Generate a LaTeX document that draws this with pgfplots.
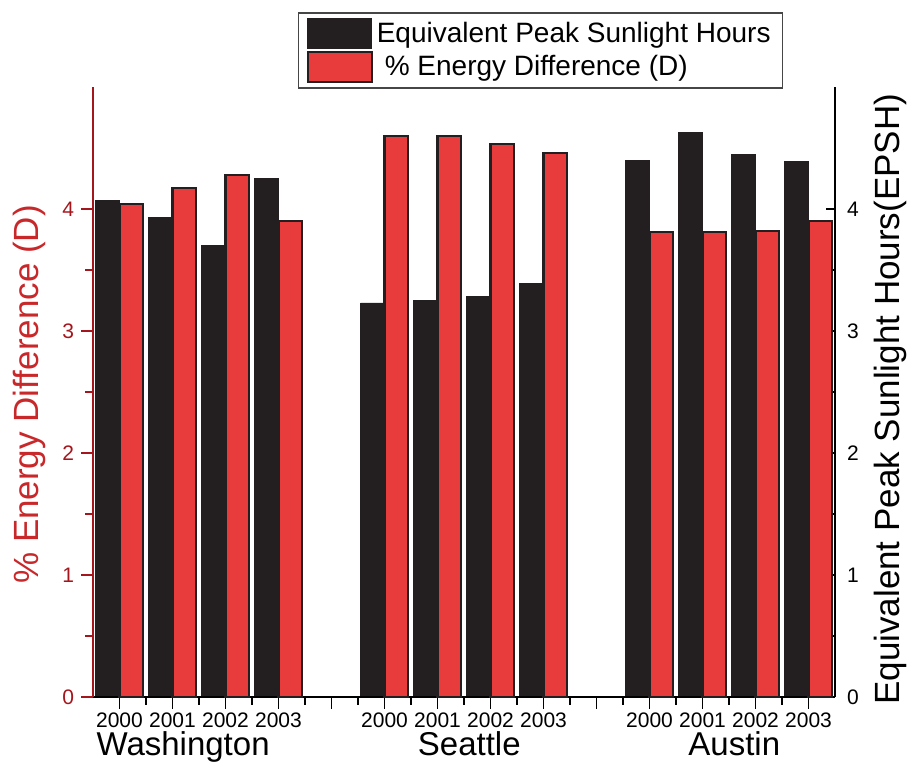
\documentclass[border=0pt]{standalone}
\usepackage{fontspec}
\setmainfont{Liberation Sans}
\usepackage{pgfplots}
\pgfplotsset{compat=1.18}
\definecolor{barblack}{RGB}{35,31,32}
\definecolor{barred}{RGB}{232,59,59}
\definecolor{axred}{RGB}{165,22,28}
\definecolor{labred}{RGB}{200,40,42}
\begin{document}
\begin{tikzpicture}
\useasboundingbox (0,0) rectangle (454pt,381.5pt);
\pgfplotsset{
  common/.style={at={(46.5pt,33pt)}, anchor=south west, scale only axis,
    width=371pt, height=305pt, xmin=-0.5, xmax=13.5, ymin=0, ymax=5, clip=false,
    /pgf/number format/assume math mode=true,
    tick label style={font=\fontsize{10.5}{12}\selectfont},
    ytick={0,1,2,3,4}, minor y tick num=1,
    axis line style={-, line width=1pt},
    every tick/.style={line width=0.8pt},
    legend image code/.code={\draw[##1] (0pt,-7.5pt) rectangle (32pt,7.5pt);},
  },
}
% right axis: black bars (EPSH)
\begin{axis}[common, axis x line=none, axis y line*=right, tick align=inside,
  major tick length=4.5pt, minor tick length=3.5pt,
  ytick style={draw=black}, yticklabel style={xshift=2.5pt, text=black},
  ylabel={Equivalent Peak Sunlight Hours(EPSH)},
  every axis y label/.style={at={(axis description cs:1.075,0.488)}, anchor=center, rotate=90, font=\fontsize{17.5}{20}\selectfont, text=black}]
\addplot[ybar, bar width=0.45, bar shift=-0.225, fill=barblack, draw=barblack]
  coordinates {(0,4.07) (1,3.93) (2,3.70) (3,4.25)
               (5,3.23) (6,3.25) (7,3.28) (8,3.39)
               (10,4.40) (11,4.63) (12,4.45) (13,4.39)};
\end{axis}
% left axis: red bars (% energy difference)
\begin{axis}[common, axis x line*=bottom, axis y line*=left, tick align=outside,
  major tick length=6pt, minor tick length=4pt,
  xtick={0,...,13},
  xticklabels={2000,2001,2002,2003,{},2000,2001,2002,2003,{},2000,2001,2002,2003},
  minor x tick num=1,
  xticklabel style={yshift=1.5pt},
  x axis line style={draw=black}, xtick style={draw=black},
  y axis line style={draw=axred}, ytick style={draw=axred}, yticklabel style={text=axred},
  ylabel={\% Energy Difference (D)},
  every axis y label/.style={at={(axis description cs:-0.085,0.496)}, anchor=center, rotate=90, font=\fontsize{17.5}{20}\selectfont, text=labred},
  legend style={at={(axis description cs:0.276,1.123)}, anchor=north west,
    draw={rgb,255:red,70;green,70;blue,70}, line width=0.8pt,
    font=\fontsize{14}{16}\selectfont, inner xsep=4pt, inner ysep=2.5pt, row sep=0.8pt},
  legend cell align=left]
\addlegendimage{fill=barblack, draw=barblack}
\addlegendentry{Equivalent Peak Sunlight Hours}
\addplot[ybar, bar width=0.45, bar shift=0.225, fill=barred, draw=barblack, line width=1.1pt]
  coordinates {(0,4.04) (1,4.17) (2,4.28) (3,3.90)
               (5,4.60) (6,4.60) (7,4.53) (8,4.46)
               (10,3.81) (11,3.81) (12,3.82) (13,3.90)};
\addlegendentry{\hspace{4pt}\% Energy Difference (D)}
\node[anchor=base, yshift=-29.5pt, font=\fontsize{16.5}{19}\selectfont] at (axis cs:1.2,0) {Washington};
\node[anchor=base, yshift=-29.5pt, font=\fontsize{16.5}{19}\selectfont] at (axis cs:6.6,0) {Seattle};
\node[anchor=base, yshift=-29.5pt, font=\fontsize{16.5}{19}\selectfont] at (axis cs:11.6,0) {Austin};
\end{axis}
\end{tikzpicture}
\end{document}
